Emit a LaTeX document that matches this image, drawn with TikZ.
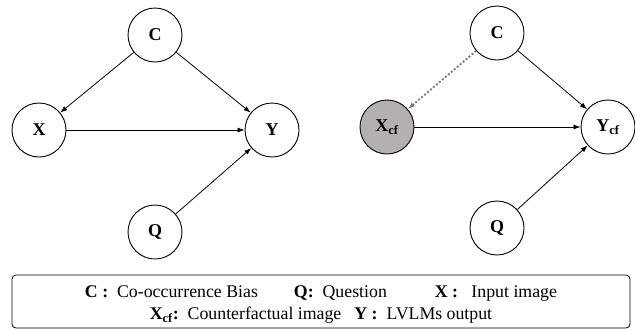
\documentclass[tikz,border=0pt]{standalone}
\usepackage{fontspec}
\setmainfont{Liberation Serif}
\usetikzlibrary{arrows.meta}
\definecolor{cfgray}{HTML}{B4B0AF}
\definecolor{dotgray}{HTML}{7A7A7A}

\begin{document}
\begin{tikzpicture}[x=1pt,y=-1pt,>={Latex[length=7pt,width=5pt]},
  var/.style={circle,draw,line width=0.9pt,minimum size=54pt,inner sep=0pt,
    font=\fontsize{18}{20}\selectfont\bfseries},
  edge/.style={->,line width=0.8pt},
  cfedge/.style={->,dotted,line width=1.9pt,draw=dotgray},
  legend/.style={draw,rounded corners=4pt,line width=0.8pt,minimum width=618pt,
    minimum height=53pt},
  legendtext/.style={align=center,font=\fontsize{17.8}{22}\selectfont}]
  \useasboundingbox (0,0) rectangle (635,330);
  % factual graph
  \node[var] (c) at (155,35) {C};
  \node[var] (x) at (39,130) {X};
  \node[var] (y) at (272,130) {Y};
  \node[var] (q) at (155,232) {Q};
  \draw[edge] (c) -- (x);
  \draw[edge] (c) -- (y);
  \draw[edge] (x) -- (y);
  \draw[edge] (q) -- (y);
  % counterfactual graph
  \node[var] (c2) at (497,33) {C};
  \node[var,fill=cfgray] (xcf) at (387,127) {X\textsubscript{cf}};
  \node[var] (ycf) at (608,127) {Y\textsubscript{cf}};
  \node[var] (q2) at (497,228) {Q};
  \draw[cfedge] (c2) -- (xcf);
  \draw[edge] (c2) -- (ycf);
  \draw[edge] (xcf) -- (ycf);
  \draw[edge] (q2) -- (ycf);
  % key
  \node[legend] (key) at (321,301.5) {};
  \node[legendtext] (keytext) at (321,304.5) {%
    \textbf{C :}\ \ Co-occurrence Bias\hspace{36pt}\textbf{Q:}\ \ Question\hspace{48pt}\textbf{X :}\ \ \ Input image\\
    \textbf{X\textsubscript{cf}:}\ \ Counterfactual image\hspace{13pt}\textbf{Y :}\ \ LVLMs output};
\end{tikzpicture}
\end{document}
